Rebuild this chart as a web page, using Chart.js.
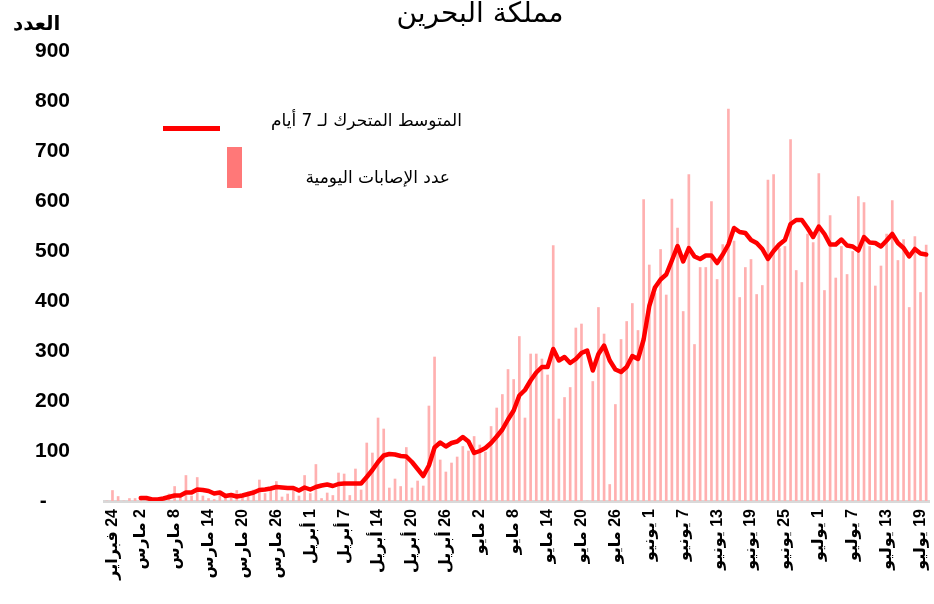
<!DOCTYPE html>
<html lang="ar">
<head>
<meta charset="utf-8">
<script src="https://cdn.jsdelivr.net/npm/chart.js@4.4.1/dist/chart.umd.min.js"></script>
<style>
  html, body { margin: 0; padding: 0; background: #fff; }
  .wrap { position: relative; width: 934px; height: 604px; overflow: hidden; }
  canvas { position: absolute; left: 0; top: 0; }
  .txt { position: absolute; direction: rtl; white-space: nowrap; color: #000; font-family: "DejaVu Sans", sans-serif; }
  .title { left: 330px; width: 300px; top: -4px; text-align: center; font-size: 28px; }
  .unit { left: 13px; top: 11px; font-size: 20px; font-weight: bold; }
  .leg1 { right: 472px; top: 110px; font-size: 17px; }
  .leg2 { right: 484px; top: 167px; font-size: 17px; }
  .swatch-line { position: absolute; left: 163px; top: 126px; width: 57px; height: 5px; background: #ff0000; }
  .swatch-bar { position: absolute; left: 227px; top: 147px; width: 15px; height: 41px; background: #ff7878; }
</style>
</head>
<body>
<div class="wrap">
  <canvas id="chart" width="934" height="604" dir="rtl"></canvas>
  <div class="txt title">مملكة البحرين</div>
  <div class="txt unit">العدد</div>
  <div class="swatch-line"></div>
  <div class="txt leg1">المتوسط المتحرك لـ 7 أيام</div>
  <div class="swatch-bar"></div>
  <div class="txt leg2">عدد الإصابات اليومية</div>
</div>
<script>
// x labels shown every 6th day (first one sits at index 1)
const tickLabels = [
  "24 فبراير", "2 مارس", "8 مارس", "14 مارس", "20 مارس", "26 مارس",
  "1 أبريل", "7 أبريل", "14 أبريل", "20 أبريل", "26 أبريل",
  "2 مايو", "8 مايو", "14 مايو", "20 مايو", "26 مايو",
  "1 يونيو", "7 يونيو", "13 يونيو", "19 يونيو", "25 يونيو",
  "1 يوليو", "7 يوليو", "13 يوليو", "19 يوليو"
];

// daily cases
const dailyCases = [
  0, 21, 9, 0, 5, 5, 3, 0, 3, 3,
  5, 14, 29, 8, 51, 10, 47, 10, 5, 3,
  13, 10, 15, 21, 8, 18, 22, 42, 15, 25,
  39, 8, 14, 25, 10, 51, 15, 73, 5, 16,
  11, 56, 54, 11, 64, 22, 116, 96, 166, 144,
  26, 44, 29, 107, 26, 40, 30, 190, 288, 82,
  58, 76, 88, 109, 100, 129, 112, 98, 149, 186,
  213, 263, 243, 329, 166, 294, 294, 284, 252, 511,
  164, 207, 227, 346, 354, 0, 239, 387, 334, 33,
  193, 323, 359, 395, 341, 603, 472, 415, 503, 412,
  604, 546, 379, 653, 313, 467, 467, 599, 443, 513,
  784, 520, 407, 467, 483, 413, 431, 642, 653, 505,
  509, 723, 461, 437, 534, 517, 655, 421, 571, 446,
  509, 453, 499, 609, 597, 509, 430, 470, 534, 601,
  481, 523, 387, 529, 417, 512
];

// 7-day moving average as drawn
const movingAvg = [
  null, null, null, null, null, null,
  6, 6, 3, 3, 5, 8, 11, 11, 17, 17,
  23, 22, 20, 15, 17, 10, 12, 9, 11, 14,
  17, 22, 23, 25, 28, 27, 26, 26, 21, 27,
  23, 28, 31, 33, 30, 34, 35, 35, 35, 35,
  48, 62, 78, 91, 94, 93, 90, 89, 78, 64,
  50, 71, 107, 117, 109, 116, 119, 128, 119, 96,
  100, 106, 116, 129, 143, 163, 181, 211, 222, 241,
  257, 268, 268, 304, 281, 288, 276, 284, 296, 301,
  261, 294, 311, 281, 263, 258, 268, 290, 284, 323,
  390, 427, 443, 453, 481, 510, 479, 506, 489, 484,
  491, 491, 476, 493, 513, 546, 538, 536, 522, 516,
  504, 484, 500, 513, 522, 554, 562, 562, 546, 528,
  549, 534, 513, 513, 523, 511, 509, 501, 528, 517,
  516, 509, 521, 534, 516, 506, 489, 504, 495, 493
];

const days = dailyCases.map((_, i) => i);

function tickText(i) {
  if (i === 1) return tickLabels[0];
  if (i >= 6 && i % 6 === 0) return tickLabels[i / 6] || "";
  return "";
}

const ctx = document.getElementById("chart").getContext("2d");

new Chart(ctx, {
  data: {
    labels: days,
    datasets: [
      {
        type: "line",
        data: movingAvg,
        borderColor: "#ff0000",
        borderWidth: 4.5,
        pointRadius: 0,
        tension: 0,
        borderJoinStyle: "round",
        borderCapStyle: "round",
        order: 0,
      },
      {
        type: "bar",
        data: dailyCases,
        backgroundColor: "#ffb0b0",
        barThickness: 2,
        order: 1,
      },
    ],
  },
  options: {
    responsive: false,
    animation: false,
    devicePixelRatio: 1,
    layout: { padding: { top: 51, right: 5, left: 0, bottom: 0 } },
    plugins: {
      legend: { display: false },
      tooltip: { enabled: false },
    },
    scales: {
      x: {
        offset: true,
        grid: { display: false, drawTicks: false },
        border: { display: true, color: "#d9d9d9", width: 3 },
        ticks: {
          autoSkip: false,
          maxRotation: 90,
          minRotation: 90,
          padding: 8,
          color: "#000",
          font: { family: "'Liberation Sans', 'DejaVu Sans', sans-serif", size: 16, weight: "bold" },
          callback: (value, index) => tickText(index),
        },
        afterFit(scale) {
          scale.height = 103;
          scale.paddingLeft = 0;
          scale.paddingRight = 0;
        },
      },
      y: {
        min: 0,
        max: 900,
        grid: { display: false, drawTicks: false },
        border: { display: false },
        ticks: {
          stepSize: 100,
          padding: 34,
          color: "#000",
          font: { family: "'Liberation Sans', sans-serif", size: 21, weight: "bold" },
          callback: (v) => (v === 0 ? "    -" : v),
        },
        afterFit(scale) { scale.width = 104; },
      },
    },
  },
});
</script>
</body>
</html>
